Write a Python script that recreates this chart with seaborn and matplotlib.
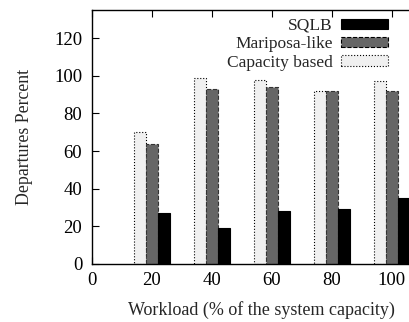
import matplotlib
matplotlib.use("Agg")
import matplotlib.pyplot as plt
import pandas as pd
import seaborn as sns
from matplotlib.patches import Patch

# ── Datos ──────────────────────────────────────────────────────────────────
WORKLOAD = [20, 40, 60, 80, 100]
CAPACITY = [70, 99, 98, 92, 97]
MARIPOSA = [64, 93, 94, 92, 92]
SQLB = [27, 19, 28, 29, 35]

SERIES = ["Capacity based", "Mariposa-like", "SQLB"]
FILLS = {"Capacity based": "#f0f0f0", "Mariposa-like": "#666666", "SQLB": "#000000"}
EDGE_STYLE = {"Capacity based": ":", "Mariposa-like": "--", "SQLB": "-"}

rows = []
for name, vals in zip(SERIES, [CAPACITY, MARIPOSA, SQLB]):
    for w, v in zip(WORKLOAD, vals):
        rows.append({"workload": w, "percent": v, "series": name})
df = pd.DataFrame(rows)

sns.set_theme(style="ticks")
plt.rcParams["font.family"] = ["Liberation Serif", "DejaVu Serif"]

fig = plt.figure(figsize=(4.09, 3.22), dpi=100)
ax = fig.add_axes([92 / 409, 58 / 322, 338 / 409, 254 / 322])

sns.barplot(data=df, x="workload", y="percent", hue="series", hue_order=SERIES,
            native_scale=True, width=0.6, palette=FILLS, saturation=1,
            legend=False, ax=ax)

for name, cont in zip(SERIES, ax.containers):
    for bar in cont:
        bar.set_edgecolor("black" if name != "Mariposa-like" else "#333333")
        bar.set_linestyle(EDGE_STYLE[name])
        bar.set_linewidth(0.8)

ax.set_xlim(0, 112.7)
ax.set_ylim(0, 135)
ax.set_xticks([0, 20, 40, 60, 80, 100])
ax.set_yticks(range(0, 121, 20))
ax.tick_params(direction="in", length=5, width=0.8, top=True, right=True,
               labelsize=13.5, colors="black")
ax.tick_params(axis="y", pad=7)
ax.tick_params(axis="x", pad=6)
for s in ax.spines.values():
    s.set_color("black")
    s.set_linewidth(1.0)

ax.set_xlabel("Workload (% of the system capacity)", fontsize=13)
ax.set_ylabel("Departures Percent", fontsize=12.8)
ax.xaxis.set_label_coords(0.5, -0.146)
ax.yaxis.set_label_coords(-0.176, 0.5)

handles = [Patch(facecolor=FILLS[n], edgecolor="black", linestyle=EDGE_STYLE[n],
                 linewidth=0.8, label=n) for n in ["SQLB", "Mariposa-like", "Capacity based"]]
fig.legend(handles=handles, loc="upper right", bbox_to_anchor=(0.979, 0.982),
           frameon=False, markerfirst=False, fontsize=12.5, handlelength=2.7,
           handleheight=0.55, labelspacing=0.14, handletextpad=0.5, borderpad=0.2)

fig.savefig("out.png", dpi=100)
